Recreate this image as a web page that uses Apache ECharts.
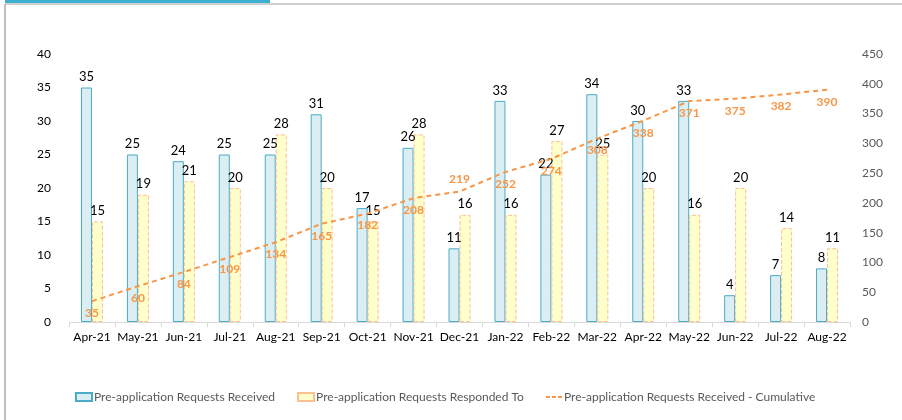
<!DOCTYPE html>
<html><head><meta charset="utf-8">
<script src="https://cdn.jsdelivr.net/npm/echarts@6/dist/echarts.min.js"></script>
<style>html,body{margin:0;padding:0;background:#fff}#c{width:902px;height:420px}</style>
</head><body><div id="c"></div>
<script>
const categories = ['Apr-21','May-21','Jun-21','Jul-21','Aug-21','Sep-21','Oct-21','Nov-21','Dec-21','Jan-22','Feb-22','Mar-22','Apr-22','May-22','Jun-22','Jul-22','Aug-22'];
const received = [35,25,24,25,25,31,17,26,11,33,22,34,30,33,4,7,8];
const responded = [15,19,21,20,28,20,15,28,16,16,27,25,20,16,20,14,11];
const cumulative = [35,60,84,109,134,165,182,208,219,252,274,308,338,371,375,382,390];
const seriesNames = ['Pre-application Requests Received','Pre-application Requests Responded To','Pre-application Requests Received - Cumulative'];

const FONT = 'Lato, "Noto Sans", sans-serif';
const chart = echarts.init(document.getElementById('c'), null, {renderer:'canvas'});
chart.setOption({
  animation:false,
  backgroundColor:'#fff',
  textStyle:{fontFamily:FONT},
  graphic:[
    {type:'rect', shape:{x:5,y:0,width:265,height:3}, style:{fill:'#3DB0CF'}},
    {type:'line', shape:{x1:5,y1:4,x2:902,y2:4}, style:{stroke:'#BFBFBF',lineWidth:1.5}},
    {type:'line', shape:{x1:5,y1:4,x2:5,y2:420}, style:{stroke:'#BFBFBF',lineWidth:2}}
  ],
  grid:{left:69,right:52,top:54,bottom:98,containLabel:false},
  legend:{
    left:70, top:386, itemWidth:16, itemHeight:8, itemGap:22,
    textStyle:{color:'#595959',fontSize:12,fontFamily:FONT, padding:[0,0,0,-3]},
    data:[
      {name:seriesNames[0], icon:'rect'},
      {name:seriesNames[1], icon:'rect'},
      {name:seriesNames[2], icon:'path://M0,3h4v2h-4z M6,3h4v2h-4z M12,3h4v2h-4z', itemStyle:{color:'#F79646', borderWidth:0, opacity:1}}
    ]
  },
  xAxis:{
    type:'category', data:categories,
    axisLine:{lineStyle:{color:'#D9D9D9'}},
    axisTick:{show:true, lineStyle:{color:'#D9D9D9'}, length:5},
    axisLabel:{color:'#000',fontSize:12,margin:9,interval:0,fontFamily:FONT}
  },
  yAxis:[
    {type:'value',min:0,max:40,interval:5,
     splitLine:{show:false},axisLine:{show:false},axisTick:{show:false},
     axisLabel:{color:'#000',fontSize:12,margin:18,fontFamily:FONT}},
    {type:'value',min:0,max:450,interval:50,
     splitLine:{show:false},axisLine:{show:false},axisTick:{show:false},
     axisLabel:{color:'#595959',fontSize:12,margin:12,fontFamily:FONT}}
  ],
  series:[
    {name:seriesNames[0], type:'bar', data:received, barWidth:11, barGap:'0%',
     itemStyle:{color:'#DAEEF3', borderColor:'#4BACC6', borderWidth:1},
     label:{show:true, position:'top', distance:4, color:'#000', fontSize:13, fontFamily:FONT}},
    {name:seriesNames[1], type:'bar', data:responded, barWidth:11,
     itemStyle:{color:'#FFFFCC', borderColor:'#FAC090', borderWidth:1, borderType:'dashed'},
     label:{show:true, position:'top', distance:4, color:'#000', fontSize:13, fontFamily:FONT}},
    {name:seriesNames[2], type:'line', yAxisIndex:1, data:cumulative.map((v,i)=>({value:v, label:{position: i===8?'top':'bottom'}})),
     symbol:'circle', symbolSize:0.01, showSymbol:true, z:5,
     lineStyle:{color:'#F79646', width:2, type:[5,4]},
     itemStyle:{color:'#F79646', borderWidth:0},
     label:{show:true, position:'bottom', distance:6, color:'#F79646', fontSize:12, fontWeight:'bold', fontFamily:FONT}}
  ]
});
</script></body></html>
